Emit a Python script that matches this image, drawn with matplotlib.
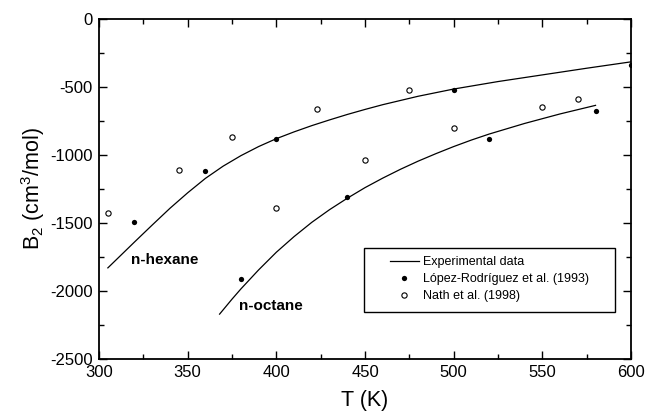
import matplotlib
matplotlib.use("Agg")
import matplotlib.pyplot as plt
from matplotlib.lines import Line2D
from matplotlib.patches import Rectangle
from matplotlib.ticker import MultipleLocator

plt.rcParams['font.family'] = ['Liberation Sans', 'DejaVu Sans']
plt.rcParams['mathtext.default'] = 'regular'
plt.rcParams['axes.unicode_minus'] = False

# Experimental-data curves
hex_T = [305, 320, 330, 340, 350, 360, 370, 380, 390, 400, 410, 420, 430, 440, 450,
         460, 480, 500, 525, 550, 575, 600]
hex_B = [-1830, -1640, -1515, -1392, -1278, -1172, -1082, -1005, -938, -880, -830, -784,
         -742, -702, -665, -630, -568, -515, -460, -411, -362, -315]
oct_T = [368, 375, 380, 390, 400, 410, 420, 430, 440, 450, 460, 470, 480, 490, 500,
         510, 520, 540, 560, 580]
oct_B = [-2170, -2060, -1985, -1845, -1715, -1600, -1495, -1402, -1318, -1240, -1170,
         -1105, -1045, -990, -938, -890, -846, -768, -698, -635]

# López-Rodríguez et al. (1993)
lr_T = [320, 360, 400, 500, 600, 380, 440, 520, 580]
lr_B = [-1490, -1120, -880, -525, -340, -1910, -1310, -880, -675]

# Nath et al. (1998)
nath_T = [305, 345, 375, 423, 475, 400, 450, 500, 550, 570]
nath_B = [-1430, -1110, -870, -660, -520, -1390, -1035, -805, -650, -585]

x_ticks = [300, 350, 400, 450, 500, 550, 600]
y_ticks = [0, -500, -1000, -1500, -2000, -2500]

fig = plt.figure(figsize=(6.47, 4.13), dpi=100)
ax = fig.add_axes([99/647, 54/413, 532/647, 340/413])

ax.plot(hex_T, hex_B, color='black', lw=0.9)
ax.plot(oct_T, oct_B, color='black', lw=0.9)
ax.plot(lr_T, lr_B, 'o', color='black', ms=3.8, mew=0)
ax.plot(nath_T, nath_B, 'o', mfc='white', mec='black', ms=3.8, mew=0.8)

ax.text(318, -1774, 'n-hexane', fontsize=11, fontweight='bold', va='center', ha='left')
ax.text(379, -2109, 'n-octane', fontsize=11, fontweight='bold', va='center', ha='left')

ax.set_xlim(300, 600)
ax.set_ylim(-2500, 0)
ax.set_xticks(x_ticks)
ax.set_yticks(y_ticks)
ax.xaxis.set_minor_locator(MultipleLocator(25))
ax.yaxis.set_minor_locator(MultipleLocator(250))
ax.tick_params(which='both', direction='in', top=True, right=True, labelsize=12, width=1.0)
ax.tick_params(which='major', length=6, pad=4.5)
ax.tick_params(which='minor', length=3.5)
for s in ax.spines.values():
    s.set_linewidth(1.3)

ax.set_xlabel('T (K)', fontsize=15.5, labelpad=7)
ax.set_ylabel(r'B$_2$ (cm$^3$/mol)', fontsize=15.5, labelpad=2)

# legend box
ax.add_patch(Rectangle((0.498, 0.138), 0.472, 0.188, transform=ax.transAxes,
                       fill=False, edgecolor='black', lw=1.0, zorder=5))
handles = [
    Line2D([], [], color='black', lw=0.9),
    Line2D([], [], ls='', marker='o', color='black', ms=3.8, mew=0),
    Line2D([], [], ls='', marker='o', mfc='white', mec='black', ms=3.8, mew=0.8),
]
labels = ['Experimental data', 'López-Rodríguez et al. (1993)', 'Nath et al. (1998)']
ax.legend(handles, labels, loc='upper left', bbox_to_anchor=(0.547, 0.302),
          frameon=False, fontsize=9, borderpad=0, borderaxespad=0,
          handlelength=2.3, handletextpad=0.3, labelspacing=0.4)

fig.savefig('out.png', dpi=100)
